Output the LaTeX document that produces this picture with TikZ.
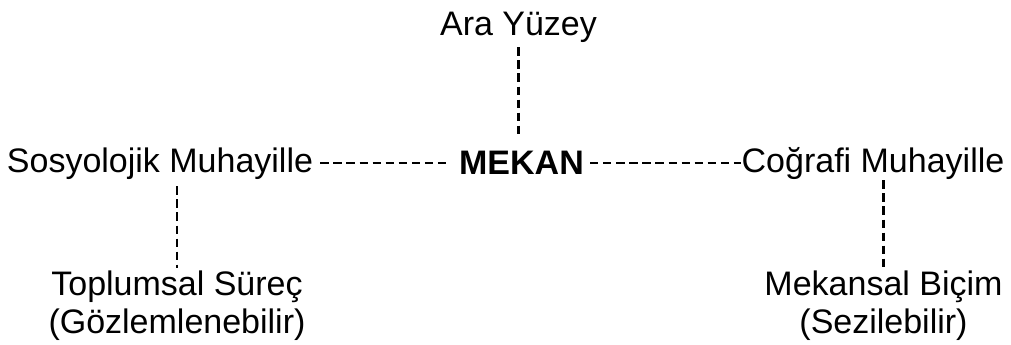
\documentclass[tikz,border=0pt]{standalone}
\usepackage{fontspec}
\setmainfont{Liberation Sans}

\begin{document}
\begin{tikzpicture}
[x=0.75pt,y=-0.75pt,%
  textDecorate/.style={inner sep=0pt,font=\fontsize{25.5}{28.5}\selectfont},%
  headDecorate/.style={textDecorate,font=\fontsize{25.5}{28.5}\selectfont\bfseries},%
  lineDecorate/.style={-,line width=1.6pt,dash pattern=on 6.2pt off 3.6pt}]
\useasboundingbox (0,0) rectangle (1011,344);
%% nodes or vertices
\node (ara) at (518.5,35) [textDecorate,anchor=base] {Ara Yüzey};
\node (mekan) at (521.5,174) [headDecorate,anchor=base] {MEKAN};
\node (sos) at (160,172) [textDecorate,anchor=base] {Sosyolojik Muhayille};
\node (cog) at (873,172) [textDecorate,anchor=base] {Coğrafi Muhayille};
\node (toplum) at (177,271) [textDecorate,anchor=north,align=center]
  {Toplumsal Süreç\\(Gözlemlenebilir)};
\node (bicim) at (883.5,271) [textDecorate,anchor=north,align=center]
  {Mekansal Biçim\\(Sezilebilir)};
%% edges or lines
\draw[lineDecorate,shorten <=3.75pt,shorten >=9.75pt] (ara.south) -- (ara.south |- mekan.north);
\draw[lineDecorate,shorten <=5.25pt,shorten >=8.25pt] (sos.east) -- (sos.east -| mekan.west);
\draw[lineDecorate,shorten <=4.5pt] (cog.west -| mekan.east) -- (cog.west);
\draw[lineDecorate,shorten <=5.25pt,shorten >=2.25pt] (toplum.north |- sos.south) -- (toplum.north);
\draw[lineDecorate,shorten <=0.75pt,shorten >=2.25pt] (bicim.north |- cog.south) -- (bicim.north);
\end{tikzpicture}
\end{document}
